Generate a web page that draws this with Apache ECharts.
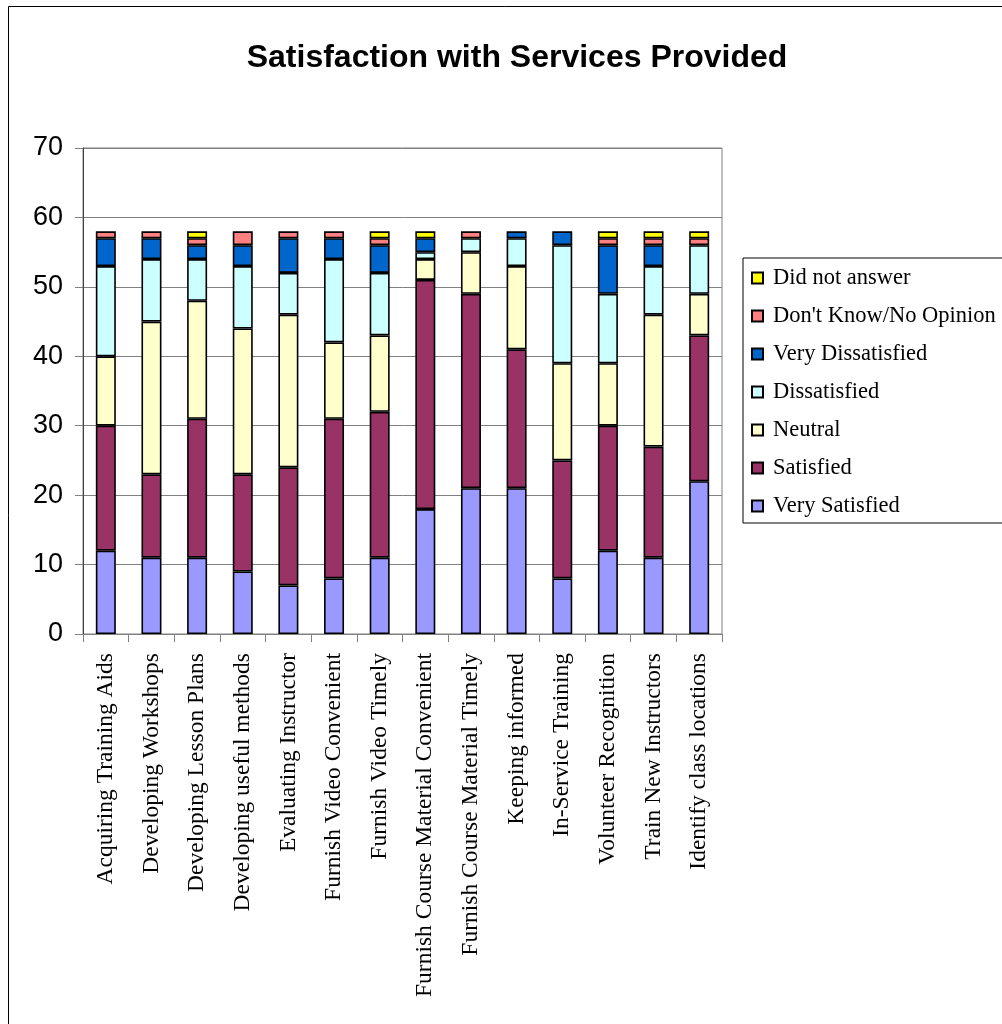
<!DOCTYPE html>
<html><head><meta charset="utf-8">
<script src="https://cdn.jsdelivr.net/npm/echarts@6/dist/echarts.min.js"></script>
<style>html,body{margin:0;padding:0;background:#fff}#c{width:1002px;height:1024px}</style>
</head><body><div id="c"></div>
<script>
const categories = ["Acquiring Training Aids","Developing Workshops","Developing Lesson Plans","Developing useful methods","Evaluating Instructor","Furnish Video Convenient","Furnish Video Timely","Furnish Course Material Convenient","Furnish Course Material Timely","Keeping informed","In-Service Training","Volunteer Recognition","Train New Instructors","Identify class locations"];
const verySatisfied    = [12,11,11, 9, 7, 8,11,18,21,21, 8,12,11,22];
const satisfied        = [18,12,20,14,17,23,21,33,28,20,17,18,16,21];
const neutral          = [10,22,17,21,22,11,11, 3, 6,12,14, 9,19, 6];
const dissatisfied     = [13, 9, 6, 9, 6,12, 9, 1, 2, 4,17,10, 7, 7];
const veryDissatisfied = [ 4, 3, 2, 3, 5, 3, 4, 2, 0, 1, 2, 7, 3, 0];
const dontKnow         = [ 1, 1, 1, 2, 1, 1, 1, 0, 1, 0, 0, 1, 1, 1];
const didNotAnswer     = [ 0, 0, 1, 0, 0, 0, 1, 1, 0, 0, 0, 1, 1, 1];
const yTicks = {min:0, max:70, interval:10};

const seriesDefs = [
  ["Very Satisfied", verySatisfied, "#9999FF"],
  ["Satisfied", satisfied, "#993366"],
  ["Neutral", neutral, "#FFFFCC"],
  ["Dissatisfied", dissatisfied, "#CCFFFF"],
  ["Very Dissatisfied", veryDissatisfied, "#0066CC"],
  ["Don't Know/No Opinion", dontKnow, "#FF8080"],
  ["Did not answer", didNotAnswer, "#FFFF00"]
];

const chart = echarts.init(document.getElementById('c'), null, {renderer:'canvas'});
chart.setOption({
  animation:false,
  backgroundColor:'#fff',
  graphic:[{type:'rect', shape:{x:8.5,y:6.5,width:1000,height:1030}, style:{fill:'none', stroke:'#000', lineWidth:1}, silent:true}],
  title:{text:'Satisfaction with Services Provided', left:512, top:37, textAlign:'center',
    textStyle:{fontFamily:'Liberation Sans, Arial', fontWeight:'bold', fontSize:32, color:'#000'}},
  grid:{left:83, top:148, right:280, bottom:390, show:true, borderColor:'#808080', borderWidth:1},
  legend:{
    orient:'vertical', left:743, top:258, width:280,
    data: seriesDefs.map(s=>s[0]).reverse(),
    itemWidth:11, itemHeight:11, itemGap:14,
    icon:'rect',
    padding:[8,20,5,8],
    borderColor:'#000', borderWidth:1,
    textStyle:{fontFamily:'Liberation Serif, Times New Roman', fontSize:22.5, color:'#000', lineHeight:24, padding:[0,0,0,5]}
  },
  xAxis:{
    type:'category', data:categories,
    axisLine:{lineStyle:{color:'#808080', width:1}},
    axisTick:{show:true, length:8, lineStyle:{color:'#808080'}},
    axisLabel:{rotate:90, interval:0, margin:19, fontFamily:'Liberation Serif, Times New Roman', fontSize:23.5, color:'#000'},
    splitLine:{show:false}
  },
  yAxis:{
    type:'value', min:yTicks.min, max:yTicks.max, interval:yTicks.interval,
    axisLine:{show:true, lineStyle:{color:'#404040'}},
    axisTick:{show:true, length:8, inside:false, lineStyle:{color:'#808080'}},
    axisLabel:{margin:20, fontFamily:'Liberation Sans, Arial', fontSize:27, color:'#000'},
    splitLine:{show:true, lineStyle:{color:'#808080', width:1}}
  },
  series: seriesDefs.map(([name, vals, color]) => ({
    name, type:'bar', stack:'total', barWidth:20,
    data: vals.map(v => v === 0 ? null : v),
    itemStyle:{color, borderColor:'#000', borderWidth:1.6}
  }))
});
</script></body></html>
